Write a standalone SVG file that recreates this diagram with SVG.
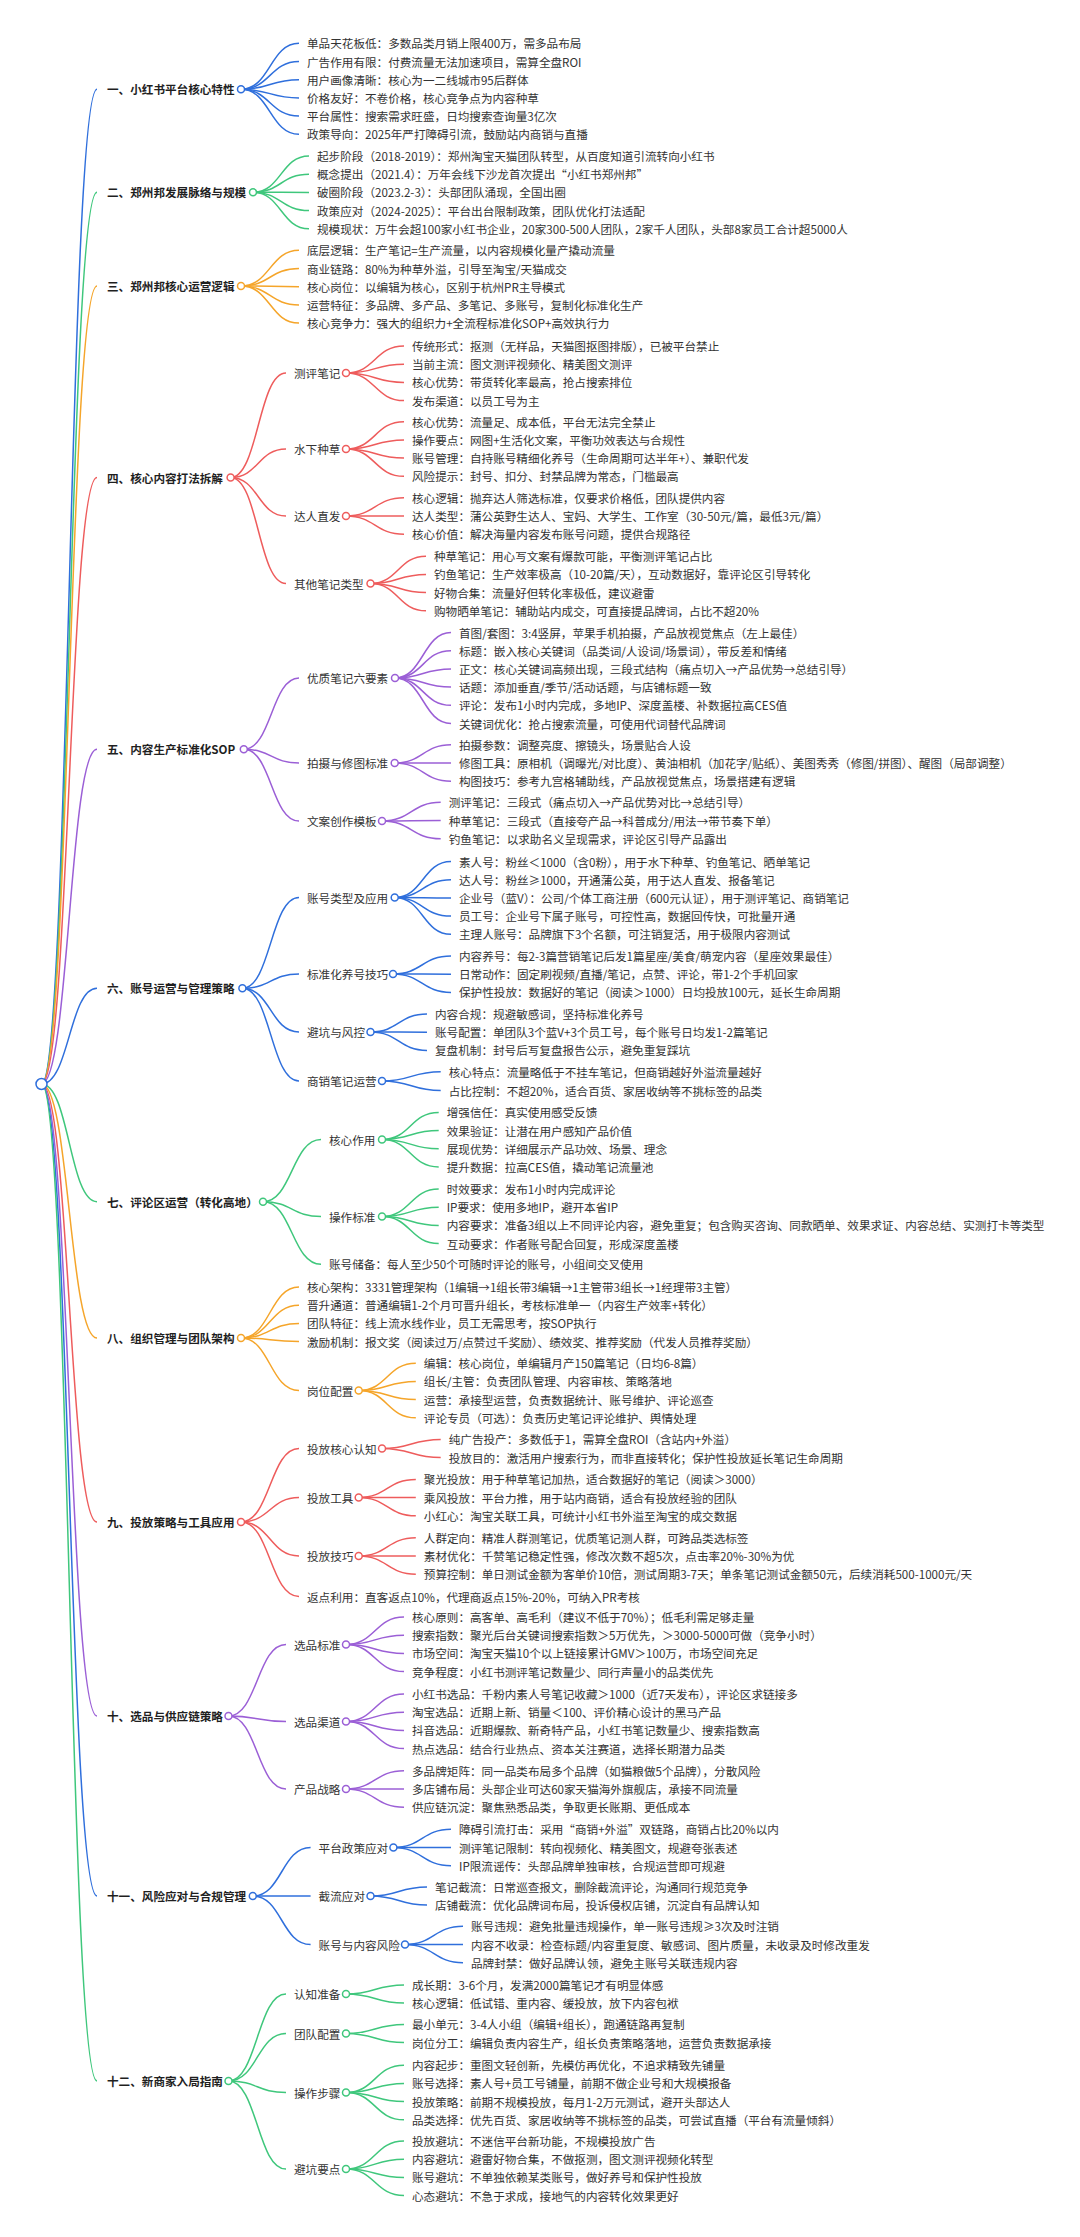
<svg xmlns="http://www.w3.org/2000/svg" width="1080" height="2237" viewBox="0 0 1080 2237">
<style>
text{font-family:"Noto Sans CJK SC","Noto Sans",sans-serif;font-size:11.6px;fill:#333;dominant-baseline:central}
.s{font-weight:bold;fill:#1f1f1f}
path{fill:none;stroke-width:1.5}
circle{fill:#fff;stroke-width:1.5}
.lb{stroke:#2f6fdc}.lg{stroke:#3fc77c}.lo{stroke:#f5a52a}.lr{stroke:#ee5c5c}.lp{stroke:#9b5fd6}
</style>
<rect width="1080" height="2237" fill="#fff"/>
<g id="connectors">
<path class="lb" d="M41.5 1084C69.25 1084 69.25 89.3 97 89.3"/>
<path class="lg" d="M41.5 1084C69.25 1084 69.25 192.3 97 192.3"/>
<path class="lo" d="M41.5 1084C69.25 1084 69.25 286 97 286"/>
<path class="lr" d="M41.5 1084C69.25 1084 69.25 477.5 97 477.5"/>
<path class="lp" d="M41.5 1084C69.25 1084 69.25 749.3 97 749.3"/>
<path class="lb" d="M41.5 1084C69.25 1084 69.25 988.3 97 988.3"/>
<path class="lg" d="M41.5 1084C69.25 1084 69.25 1201.7 97 1201.7"/>
<path class="lo" d="M41.5 1084C69.25 1084 69.25 1338 97 1338"/>
<path class="lr" d="M41.5 1084C69.25 1084 69.25 1522 97 1522"/>
<path class="lp" d="M41.5 1084C69.25 1084 69.25 1716 97 1716"/>
<path class="lb" d="M41.5 1084C69.25 1084 69.25 1896 97 1896"/>
<path class="lg" d="M41.5 1084C69.25 1084 69.25 2081 97 2081"/>
<path class="lb" d="M241 89.3C270 89.3 270 43.3 299 43.3"/>
<path class="lb" d="M241 89.3C270 89.3 270 61.5 299 61.5"/>
<path class="lb" d="M241 89.3C270 89.3 270 79.7 299 79.7"/>
<path class="lb" d="M241 89.3C270 89.3 270 97.9 299 97.9"/>
<path class="lb" d="M241 89.3C270 89.3 270 116.1 299 116.1"/>
<path class="lb" d="M241 89.3C270 89.3 270 134.3 299 134.3"/>
<path class="lg" d="M253 192.3C281 192.3 281 156 309 156"/>
<path class="lg" d="M253 192.3C281 192.3 281 174.2 309 174.2"/>
<path class="lg" d="M253 192.3C281 192.3 281 192.4 309 192.4"/>
<path class="lg" d="M253 192.3C281 192.3 281 210.6 309 210.6"/>
<path class="lg" d="M253 192.3C281 192.3 281 228.8 309 228.8"/>
<path class="lo" d="M241 286C270 286 270 250.3 299 250.3"/>
<path class="lo" d="M241 286C270 286 270 268.5 299 268.5"/>
<path class="lo" d="M241 286C270 286 270 286.7 299 286.7"/>
<path class="lo" d="M241 286C270 286 270 304.9 299 304.9"/>
<path class="lo" d="M241 286C270 286 270 323.1 299 323.1"/>
<path class="lr" d="M230.6 477.5C258.3 477.5 258.3 373 286 373"/>
<path class="lr" d="M230.6 477.5C258.3 477.5 258.3 449 286 449"/>
<path class="lr" d="M230.6 477.5C258.3 477.5 258.3 516 286 516"/>
<path class="lr" d="M230.6 477.5C258.3 477.5 258.3 583.5 286 583.5"/>
<path class="lr" d="M346 373C375 373 375 346 404 346"/>
<path class="lr" d="M346 373C375 373 375 364.2 404 364.2"/>
<path class="lr" d="M346 373C375 373 375 382.4 404 382.4"/>
<path class="lr" d="M346 373C375 373 375 400.6 404 400.6"/>
<path class="lr" d="M346 449C375 449 375 421.7 404 421.7"/>
<path class="lr" d="M346 449C375 449 375 439.9 404 439.9"/>
<path class="lr" d="M346 449C375 449 375 458.1 404 458.1"/>
<path class="lr" d="M346 449C375 449 375 476.3 404 476.3"/>
<path class="lr" d="M346 516C375 516 375 497.8 404 497.8"/>
<path class="lr" d="M346 516C375 516 375 516 404 516"/>
<path class="lr" d="M346 516C375 516 375 534.2 404 534.2"/>
<path class="lr" d="M370.5 583.5C398.3 583.5 398.3 556.2 426 556.2"/>
<path class="lr" d="M370.5 583.5C398.3 583.5 398.3 574.4 426 574.4"/>
<path class="lr" d="M370.5 583.5C398.3 583.5 398.3 592.6 426 592.6"/>
<path class="lr" d="M370.5 583.5C398.3 583.5 398.3 610.8 426 610.8"/>
<path class="lp" d="M243.8 749.3C271.4 749.3 271.4 678 299 678"/>
<path class="lp" d="M243.8 749.3C271.4 749.3 271.4 763 299 763"/>
<path class="lp" d="M243.8 749.3C271.4 749.3 271.4 821 299 821"/>
<path class="lp" d="M395 678C423 678 423 632.5 451 632.5"/>
<path class="lp" d="M395 678C423 678 423 650.7 451 650.7"/>
<path class="lp" d="M395 678C423 678 423 668.9 451 668.9"/>
<path class="lp" d="M395 678C423 678 423 687.1 451 687.1"/>
<path class="lp" d="M395 678C423 678 423 705.3 451 705.3"/>
<path class="lp" d="M395 678C423 678 423 723.5 451 723.5"/>
<path class="lp" d="M394.7 763C422.9 763 422.9 744.8 451 744.8"/>
<path class="lp" d="M394.7 763C422.9 763 422.9 763 451 763"/>
<path class="lp" d="M394.7 763C422.9 763 422.9 781.2 451 781.2"/>
<path class="lp" d="M382 821C411.4 821 411.4 802.3 440.7 802.3"/>
<path class="lp" d="M382 821C411.4 821 411.4 820.5 440.7 820.5"/>
<path class="lp" d="M382 821C411.4 821 411.4 838.7 440.7 838.7"/>
<path class="lb" d="M242.4 988.3C270.7 988.3 270.7 897.5 299 897.5"/>
<path class="lb" d="M242.4 988.3C270.7 988.3 270.7 974 299 974"/>
<path class="lb" d="M242.4 988.3C270.7 988.3 270.7 1032 299 1032"/>
<path class="lb" d="M242.4 988.3C270.7 988.3 270.7 1081 299 1081"/>
<path class="lb" d="M394.7 897.5C422.9 897.5 422.9 861.5 451 861.5"/>
<path class="lb" d="M394.7 897.5C422.9 897.5 422.9 879.7 451 879.7"/>
<path class="lb" d="M394.7 897.5C422.9 897.5 422.9 897.9 451 897.9"/>
<path class="lb" d="M394.7 897.5C422.9 897.5 422.9 916.1 451 916.1"/>
<path class="lb" d="M394.7 897.5C422.9 897.5 422.9 934.3 451 934.3"/>
<path class="lb" d="M393 974C422 974 422 956 451 956"/>
<path class="lb" d="M393 974C422 974 422 974.2 451 974.2"/>
<path class="lb" d="M393 974C422 974 422 992.4 451 992.4"/>
<path class="lb" d="M370.5 1032C398.8 1032 398.8 1014 427 1014"/>
<path class="lb" d="M370.5 1032C398.8 1032 398.8 1032.2 427 1032.2"/>
<path class="lb" d="M370.5 1032C398.8 1032 398.8 1050.4 427 1050.4"/>
<path class="lb" d="M382 1081C411.4 1081 411.4 1071.7 440.7 1071.7"/>
<path class="lb" d="M382 1081C411.4 1081 411.4 1090.5 440.7 1090.5"/>
<path class="lg" d="M263 1201.7C292 1201.7 292 1139.5 321 1139.5"/>
<path class="lg" d="M263 1201.7C292 1201.7 292 1216.5 321 1216.5"/>
<path class="lg" d="M263 1201.7C292 1201.7 292 1264.3 321 1264.3"/>
<path class="lg" d="M382 1139.5C410.4 1139.5 410.4 1112.4 438.7 1112.4"/>
<path class="lg" d="M382 1139.5C410.4 1139.5 410.4 1130.6 438.7 1130.6"/>
<path class="lg" d="M382 1139.5C410.4 1139.5 410.4 1148.8 438.7 1148.8"/>
<path class="lg" d="M382 1139.5C410.4 1139.5 410.4 1167 438.7 1167"/>
<path class="lg" d="M382 1216.5C410.4 1216.5 410.4 1189 438.7 1189"/>
<path class="lg" d="M382 1216.5C410.4 1216.5 410.4 1207.2 438.7 1207.2"/>
<path class="lg" d="M382 1216.5C410.4 1216.5 410.4 1225.4 438.7 1225.4"/>
<path class="lg" d="M382 1216.5C410.4 1216.5 410.4 1243.6 438.7 1243.6"/>
<path class="lo" d="M241 1338C270 1338 270 1287 299 1287"/>
<path class="lo" d="M241 1338C270 1338 270 1305.2 299 1305.2"/>
<path class="lo" d="M241 1338C270 1338 270 1323.4 299 1323.4"/>
<path class="lo" d="M241 1338C270 1338 270 1341.6 299 1341.6"/>
<path class="lo" d="M241 1338C270 1338 270 1390.5 299 1390.5"/>
<path class="lo" d="M358.7 1390.5C387.3 1390.5 387.3 1363.2 415.8 1363.2"/>
<path class="lo" d="M358.7 1390.5C387.3 1390.5 387.3 1381.4 415.8 1381.4"/>
<path class="lo" d="M358.7 1390.5C387.3 1390.5 387.3 1399.6 415.8 1399.6"/>
<path class="lo" d="M358.7 1390.5C387.3 1390.5 387.3 1417.8 415.8 1417.8"/>
<path class="lr" d="M241 1522C270 1522 270 1448.5 299 1448.5"/>
<path class="lr" d="M241 1522C270 1522 270 1497.5 299 1497.5"/>
<path class="lr" d="M241 1522C270 1522 270 1556 299 1556"/>
<path class="lr" d="M241 1522C270 1522 270 1596.5 299 1596.5"/>
<path class="lr" d="M382 1448.5C411.4 1448.5 411.4 1439.4 440.7 1439.4"/>
<path class="lr" d="M382 1448.5C411.4 1448.5 411.4 1457.6 440.7 1457.6"/>
<path class="lr" d="M358.7 1497.5C387.3 1497.5 387.3 1479.4 415.8 1479.4"/>
<path class="lr" d="M358.7 1497.5C387.3 1497.5 387.3 1497.6 415.8 1497.6"/>
<path class="lr" d="M358.7 1497.5C387.3 1497.5 387.3 1515.8 415.8 1515.8"/>
<path class="lr" d="M358.7 1556C387.3 1556 387.3 1537.8 415.8 1537.8"/>
<path class="lr" d="M358.7 1556C387.3 1556 387.3 1556 415.8 1556"/>
<path class="lr" d="M358.7 1556C387.3 1556 387.3 1574.2 415.8 1574.2"/>
<path class="lp" d="M228.5 1716C257.3 1716 257.3 1644.5 286 1644.5"/>
<path class="lp" d="M228.5 1716C257.3 1716 257.3 1721.5 286 1721.5"/>
<path class="lp" d="M228.5 1716C257.3 1716 257.3 1789 286 1789"/>
<path class="lp" d="M346 1644.5C375 1644.5 375 1617 404 1617"/>
<path class="lp" d="M346 1644.5C375 1644.5 375 1635.2 404 1635.2"/>
<path class="lp" d="M346 1644.5C375 1644.5 375 1653.4 404 1653.4"/>
<path class="lp" d="M346 1644.5C375 1644.5 375 1671.6 404 1671.6"/>
<path class="lp" d="M346 1721.5C375 1721.5 375 1694 404 1694"/>
<path class="lp" d="M346 1721.5C375 1721.5 375 1712.2 404 1712.2"/>
<path class="lp" d="M346 1721.5C375 1721.5 375 1730.4 404 1730.4"/>
<path class="lp" d="M346 1721.5C375 1721.5 375 1748.6 404 1748.6"/>
<path class="lp" d="M346 1789C375 1789 375 1770.8 404 1770.8"/>
<path class="lp" d="M346 1789C375 1789 375 1789 404 1789"/>
<path class="lp" d="M346 1789C375 1789 375 1807.2 404 1807.2"/>
<path class="lb" d="M252.8 1896C281.7 1896 281.7 1847.5 310.6 1847.5"/>
<path class="lb" d="M252.8 1896C281.7 1896 281.7 1896 310.6 1896"/>
<path class="lb" d="M252.8 1896C281.7 1896 281.7 1944.5 310.6 1944.5"/>
<path class="lb" d="M393.4 1847.5C422.2 1847.5 422.2 1829.3 451 1829.3"/>
<path class="lb" d="M393.4 1847.5C422.2 1847.5 422.2 1847.5 451 1847.5"/>
<path class="lb" d="M393.4 1847.5C422.2 1847.5 422.2 1865.7 451 1865.7"/>
<path class="lb" d="M370.5 1896C398.8 1896 398.8 1886.9 427 1886.9"/>
<path class="lb" d="M370.5 1896C398.8 1896 398.8 1905.1 427 1905.1"/>
<path class="lb" d="M405 1944.5C434 1944.5 434 1926.3 463 1926.3"/>
<path class="lb" d="M405 1944.5C434 1944.5 434 1944.5 463 1944.5"/>
<path class="lb" d="M405 1944.5C434 1944.5 434 1962.7 463 1962.7"/>
<path class="lg" d="M228.5 2081C257.3 2081 257.3 1994 286 1994"/>
<path class="lg" d="M228.5 2081C257.3 2081 257.3 2033.5 286 2033.5"/>
<path class="lg" d="M228.5 2081C257.3 2081 257.3 2092.5 286 2092.5"/>
<path class="lg" d="M228.5 2081C257.3 2081 257.3 2169 286 2169"/>
<path class="lg" d="M346 1994C375 1994 375 1984.9 404 1984.9"/>
<path class="lg" d="M346 1994C375 1994 375 2003.1 404 2003.1"/>
<path class="lg" d="M346 2033.5C375 2033.5 375 2024.4 404 2024.4"/>
<path class="lg" d="M346 2033.5C375 2033.5 375 2042.6 404 2042.6"/>
<path class="lg" d="M346 2092.5C375 2092.5 375 2065.2 404 2065.2"/>
<path class="lg" d="M346 2092.5C375 2092.5 375 2083.4 404 2083.4"/>
<path class="lg" d="M346 2092.5C375 2092.5 375 2101.6 404 2101.6"/>
<path class="lg" d="M346 2092.5C375 2092.5 375 2119.8 404 2119.8"/>
<path class="lg" d="M346 2169C375 2169 375 2141 404 2141"/>
<path class="lg" d="M346 2169C375 2169 375 2159.2 404 2159.2"/>
<path class="lg" d="M346 2169C375 2169 375 2177.4 404 2177.4"/>
<path class="lg" d="M346 2169C375 2169 375 2195.6 404 2195.6"/>
</g>
<g id="root"><circle class="lb" cx="41.5" cy="1084" r="5.5"/></g>

<g id="s1"><text class="s" x="107" y="89.3">一、小红书平台核心特性</text><circle class="lb" cx="241" cy="89.3" r="3.5"/></g>
<g id="s1-1"><text x="307" y="43.3">单品天花板低：多数品类月销上限400万，需多品布局</text></g>
<g id="s1-2"><text x="307" y="61.5">广告作用有限：付费流量无法加速项目，需算全盘ROI</text></g>
<g id="s1-3"><text x="307" y="79.7">用户画像清晰：核心为一二线城市95后群体</text></g>
<g id="s1-4"><text x="307" y="97.9">价格友好：不卷价格，核心竞争点为内容种草</text></g>
<g id="s1-5"><text x="307" y="116.1">平台属性：搜索需求旺盛，日均搜索查询量3亿次</text></g>
<g id="s1-6"><text x="307" y="134.3">政策导向：2025年严打障碍引流，鼓励站内商销与直播</text></g>

<g id="s2"><text class="s" x="107" y="192.3">二、郑州邦发展脉络与规模</text><circle class="lg" cx="253" cy="192.3" r="3.5"/></g>
<g id="s2-1"><text x="317" y="156">起步阶段（2018-2019）：郑州淘宝天猫团队转型，从百度知道引流转向小红书</text></g>
<g id="s2-2"><text x="317" y="174.2">概念提出（2021.4）：万年会线下沙龙首次提出“小红书郑州邦”</text></g>
<g id="s2-3"><text x="317" y="192.4">破圈阶段（2023.2-3）：头部团队涌现，全国出圈</text></g>
<g id="s2-4"><text x="317" y="210.6">政策应对（2024-2025）：平台出台限制政策，团队优化打法适配</text></g>
<g id="s2-5"><text x="317" y="228.8">规模现状：万牛会超100家小红书企业，20家300-500人团队，2家千人团队，头部8家员工合计超5000人</text></g>

<g id="s3"><text class="s" x="107" y="286">三、郑州邦核心运营逻辑</text><circle class="lo" cx="241" cy="286" r="3.5"/></g>
<g id="s3-1"><text x="307" y="250.3">底层逻辑：生产笔记=生产流量，以内容规模化量产撬动流量</text></g>
<g id="s3-2"><text x="307" y="268.5">商业链路：80%为种草外溢，引导至淘宝/天猫成交</text></g>
<g id="s3-3"><text x="307" y="286.7">核心岗位：以编辑为核心，区别于杭州PR主导模式</text></g>
<g id="s3-4"><text x="307" y="304.9">运营特征：多品牌、多产品、多笔记、多账号，复制化标准化生产</text></g>
<g id="s3-5"><text x="307" y="323.1">核心竞争力：强大的组织力+全流程标准化SOP+高效执行力</text></g>

<g id="s4"><text class="s" x="107" y="477.5">四、核心内容打法拆解</text><circle class="lr" cx="230.6" cy="477.5" r="3.5"/></g>
<g id="s4-a"><text x="294" y="373">测评笔记</text><circle class="lr" cx="346" cy="373" r="3.5"/></g>
<g id="s4-a1"><text x="412" y="346">传统形式：抠测（无样品，天猫图抠图排版），已被平台禁止</text></g>
<g id="s4-a2"><text x="412" y="364.2">当前主流：图文测评视频化、精美图文测评</text></g>
<g id="s4-a3"><text x="412" y="382.4">核心优势：带货转化率最高，抢占搜索排位</text></g>
<g id="s4-a4"><text x="412" y="400.6">发布渠道：以员工号为主</text></g>
<g id="s4-b"><text x="294" y="449">水下种草</text><circle class="lr" cx="346" cy="449" r="3.5"/></g>
<g id="s4-b1"><text x="412" y="421.7">核心优势：流量足、成本低，平台无法完全禁止</text></g>
<g id="s4-b2"><text x="412" y="439.9">操作要点：网图+生活化文案，平衡功效表达与合规性</text></g>
<g id="s4-b3"><text x="412" y="458.1">账号管理：自持账号精细化养号（生命周期可达半年+）、兼职代发</text></g>
<g id="s4-b4"><text x="412" y="476.3">风险提示：封号、扣分、封禁品牌为常态，门槛最高</text></g>
<g id="s4-c"><text x="294" y="516">达人直发</text><circle class="lr" cx="346" cy="516" r="3.5"/></g>
<g id="s4-c1"><text x="412" y="497.8">核心逻辑：抛弃达人筛选标准，仅要求价格低，团队提供内容</text></g>
<g id="s4-c2"><text x="412" y="516">达人类型：蒲公英野生达人、宝妈、大学生、工作室（30-50元/篇，最低3元/篇）</text></g>
<g id="s4-c3"><text x="412" y="534.2">核心价值：解决海量内容发布账号问题，提供合规路径</text></g>
<g id="s4-d"><text x="294" y="583.5">其他笔记类型</text><circle class="lr" cx="370.5" cy="583.5" r="3.5"/></g>
<g id="s4-d1"><text x="434" y="556.2">种草笔记：用心写文案有爆款可能，平衡测评笔记占比</text></g>
<g id="s4-d2"><text x="434" y="574.4">钓鱼笔记：生产效率极高（10-20篇/天），互动数据好，靠评论区引导转化</text></g>
<g id="s4-d3"><text x="434" y="592.6">好物合集：流量好但转化率极低，建议避雷</text></g>
<g id="s4-d4"><text x="434" y="610.8">购物晒单笔记：辅助站内成交，可直接提品牌词，占比不超20%</text></g>

<g id="s5"><text class="s" x="107" y="749.3">五、内容生产标准化SOP</text><circle class="lp" cx="243.8" cy="749.3" r="3.5"/></g>
<g id="s5-a"><text x="307" y="678">优质笔记六要素</text><circle class="lp" cx="395" cy="678" r="3.5"/></g>
<g id="s5-a1"><text x="459" y="632.5">首图/套图：3:4竖屏，苹果手机拍摄，产品放视觉焦点（左上最佳）</text></g>
<g id="s5-a2"><text x="459" y="650.7">标题：嵌入核心关键词（品类词/人设词/场景词），带反差和情绪</text></g>
<g id="s5-a3"><text x="459" y="668.9">正文：核心关键词高频出现，三段式结构（痛点切入→产品优势→总结引导）</text></g>
<g id="s5-a4"><text x="459" y="687.1">话题：添加垂直/季节/活动话题，与店铺标题一致</text></g>
<g id="s5-a5"><text x="459" y="705.3">评论：发布1小时内完成，多地IP、深度盖楼、补数据拉高CES值</text></g>
<g id="s5-a6"><text x="459" y="723.5">关键词优化：抢占搜索流量，可使用代词替代品牌词</text></g>
<g id="s5-b"><text x="307" y="763">拍摄与修图标准</text><circle class="lp" cx="394.7" cy="763" r="3.5"/></g>
<g id="s5-b1"><text x="459" y="744.8">拍摄参数：调整亮度、擦镜头，场景贴合人设</text></g>
<g id="s5-b2"><text x="459" y="763">修图工具：原相机（调曝光/对比度）、黄油相机（加花字/贴纸）、美图秀秀（修图/拼图）、醒图（局部调整）</text></g>
<g id="s5-b3"><text x="459" y="781.2">构图技巧：参考九宫格辅助线，产品放视觉焦点，场景搭建有逻辑</text></g>
<g id="s5-c"><text x="307" y="821">文案创作模板</text><circle class="lp" cx="382" cy="821" r="3.5"/></g>
<g id="s5-c1"><text x="448.7" y="802.3">测评笔记：三段式（痛点切入→产品优势对比→总结引导）</text></g>
<g id="s5-c2"><text x="448.7" y="820.5">种草笔记：三段式（直接夸产品→科普成分/用法→带节奏下单）</text></g>
<g id="s5-c3"><text x="448.7" y="838.7">钓鱼笔记：以求助名义呈现需求，评论区引导产品露出</text></g>

<g id="s6"><text class="s" x="107" y="988.3">六、账号运营与管理策略</text><circle class="lb" cx="242.4" cy="988.3" r="3.5"/></g>
<g id="s6-a"><text x="307" y="897.5">账号类型及应用</text><circle class="lb" cx="394.7" cy="897.5" r="3.5"/></g>
<g id="s6-a1"><text x="459" y="861.5">素人号：粉丝＜1000（含0粉），用于水下种草、钓鱼笔记、晒单笔记</text></g>
<g id="s6-a2"><text x="459" y="879.7">达人号：粉丝≥1000，开通蒲公英，用于达人直发、报备笔记</text></g>
<g id="s6-a3"><text x="459" y="897.9">企业号（蓝V）：公司/个体工商注册（600元认证），用于测评笔记、商销笔记</text></g>
<g id="s6-a4"><text x="459" y="916.1">员工号：企业号下属子账号，可控性高，数据回传快，可批量开通</text></g>
<g id="s6-a5"><text x="459" y="934.3">主理人账号：品牌旗下3个名额，可注销复活，用于极限内容测试</text></g>
<g id="s6-b"><text x="307" y="974">标准化养号技巧</text><circle class="lb" cx="393" cy="974" r="3.5"/></g>
<g id="s6-b1"><text x="459" y="956">内容养号：每2-3篇营销笔记后发1篇星座/美食/萌宠内容（星座效果最佳）</text></g>
<g id="s6-b2"><text x="459" y="974.2">日常动作：固定刷视频/直播/笔记，点赞、评论，带1-2个手机回家</text></g>
<g id="s6-b3"><text x="459" y="992.4">保护性投放：数据好的笔记（阅读＞1000）日均投放100元，延长生命周期</text></g>
<g id="s6-c"><text x="307" y="1032">避坑与风控</text><circle class="lb" cx="370.5" cy="1032" r="3.5"/></g>
<g id="s6-c1"><text x="435" y="1014">内容合规：规避敏感词，坚持标准化养号</text></g>
<g id="s6-c2"><text x="435" y="1032.2">账号配置：单团队3个蓝V+3个员工号，每个账号日均发1-2篇笔记</text></g>
<g id="s6-c3"><text x="435" y="1050.4">复盘机制：封号后写复盘报告公示，避免重复踩坑</text></g>
<g id="s6-d"><text x="307" y="1081">商销笔记运营</text><circle class="lb" cx="382" cy="1081" r="3.5"/></g>
<g id="s6-d1"><text x="448.7" y="1071.7">核心特点：流量略低于不挂车笔记，但商销越好外溢流量越好</text></g>
<g id="s6-d2"><text x="448.7" y="1090.5">占比控制：不超20%，适合百货、家居收纳等不挑标签的品类</text></g>

<g id="s7"><text class="s" x="107" y="1201.7">七、评论区运营（转化高地）</text><circle class="lg" cx="263" cy="1201.7" r="3.5"/></g>
<g id="s7-a"><text x="329" y="1139.5">核心作用</text><circle class="lg" cx="382" cy="1139.5" r="3.5"/></g>
<g id="s7-a1"><text x="446.7" y="1112.4">增强信任：真实使用感受反馈</text></g>
<g id="s7-a2"><text x="446.7" y="1130.6">效果验证：让潜在用户感知产品价值</text></g>
<g id="s7-a3"><text x="446.7" y="1148.8">展现优势：详细展示产品功效、场景、理念</text></g>
<g id="s7-a4"><text x="446.7" y="1167">提升数据：拉高CES值，撬动笔记流量池</text></g>
<g id="s7-b"><text x="329" y="1216.5">操作标准</text><circle class="lg" cx="382" cy="1216.5" r="3.5"/></g>
<g id="s7-b1"><text x="446.7" y="1189">时效要求：发布1小时内完成评论</text></g>
<g id="s7-b2"><text x="446.7" y="1207.2">IP要求：使用多地IP，避开本省IP</text></g>
<g id="s7-b3"><text x="446.7" y="1225.4">内容要求：准备3组以上不同评论内容，避免重复；包含购买咨询、同款晒单、效果求证、内容总结、实测打卡等类型</text></g>
<g id="s7-b4"><text x="446.7" y="1243.6">互动要求：作者账号配合回复，形成深度盖楼</text></g>
<g id="s7-c"><text x="329" y="1264.3">账号储备：每人至少50个可随时评论的账号，小组间交叉使用</text></g>

<g id="s8"><text class="s" x="107" y="1338">八、组织管理与团队架构</text><circle class="lo" cx="241" cy="1338" r="3.5"/></g>
<g id="s8-1"><text x="307" y="1287">核心架构：3331管理架构（1编辑→1组长带3编辑→1主管带3组长→1经理带3主管）</text></g>
<g id="s8-2"><text x="307" y="1305.2">晋升通道：普通编辑1-2个月可晋升组长，考核标准单一（内容生产效率+转化）</text></g>
<g id="s8-3"><text x="307" y="1323.4">团队特征：线上流水线作业，员工无需思考，按SOP执行</text></g>
<g id="s8-4"><text x="307" y="1341.6">激励机制：报文奖（阅读过万/点赞过千奖励）、绩效奖、推荐奖励（代发人员推荐奖励）</text></g>
<g id="s8-e"><text x="307" y="1390.5">岗位配置</text><circle class="lo" cx="358.7" cy="1390.5" r="3.5"/></g>
<g id="s8-e1"><text x="423.8" y="1363.2">编辑：核心岗位，单编辑月产150篇笔记（日均6-8篇）</text></g>
<g id="s8-e2"><text x="423.8" y="1381.4">组长/主管：负责团队管理、内容审核、策略落地</text></g>
<g id="s8-e3"><text x="423.8" y="1399.6">运营：承接型运营，负责数据统计、账号维护、评论巡查</text></g>
<g id="s8-e4"><text x="423.8" y="1417.8">评论专员（可选）：负责历史笔记评论维护、舆情处理</text></g>

<g id="s9"><text class="s" x="107" y="1522">九、投放策略与工具应用</text><circle class="lr" cx="241" cy="1522" r="3.5"/></g>
<g id="s9-a"><text x="307" y="1448.5">投放核心认知</text><circle class="lr" cx="382" cy="1448.5" r="3.5"/></g>
<g id="s9-a1"><text x="448.7" y="1439.4">纯广告投产：多数低于1，需算全盘ROI（含站内+外溢）</text></g>
<g id="s9-a2"><text x="448.7" y="1457.6">投放目的：激活用户搜索行为，而非直接转化；保护性投放延长笔记生命周期</text></g>
<g id="s9-b"><text x="307" y="1497.5">投放工具</text><circle class="lr" cx="358.7" cy="1497.5" r="3.5"/></g>
<g id="s9-b1"><text x="423.8" y="1479.4">聚光投放：用于种草笔记加热，适合数据好的笔记（阅读＞3000）</text></g>
<g id="s9-b2"><text x="423.8" y="1497.6">乘风投放：平台力推，用于站内商销，适合有投放经验的团队</text></g>
<g id="s9-b3"><text x="423.8" y="1515.8">小红心：淘宝关联工具，可统计小红书外溢至淘宝的成交数据</text></g>
<g id="s9-c"><text x="307" y="1556">投放技巧</text><circle class="lr" cx="358.7" cy="1556" r="3.5"/></g>
<g id="s9-c1"><text x="423.8" y="1537.8">人群定向：精准人群测笔记，优质笔记测人群，可跨品类选标签</text></g>
<g id="s9-c2"><text x="423.8" y="1556">素材优化：千赞笔记稳定性强，修改次数不超5次，点击率20%-30%为优</text></g>
<g id="s9-c3"><text x="423.8" y="1574.2">预算控制：单日测试金额为客单价10倍，测试周期3-7天；单条笔记测试金额50元，后续消耗500-1000元/天</text></g>
<g id="s9-d"><text x="307" y="1596.5">返点利用：直客返点10%，代理商返点15%-20%，可纳入PR考核</text></g>

<g id="s10"><text class="s" x="107" y="1716">十、选品与供应链策略</text><circle class="lp" cx="228.5" cy="1716" r="3.5"/></g>
<g id="s10-a"><text x="294" y="1644.5">选品标准</text><circle class="lp" cx="346" cy="1644.5" r="3.5"/></g>
<g id="s10-a1"><text x="412" y="1617">核心原则：高客单、高毛利（建议不低于70%）；低毛利需足够走量</text></g>
<g id="s10-a2"><text x="412" y="1635.2">搜索指数：聚光后台关键词搜索指数＞5万优先，＞3000-5000可做（竞争小时）</text></g>
<g id="s10-a3"><text x="412" y="1653.4">市场空间：淘宝天猫10个以上链接累计GMV＞100万，市场空间充足</text></g>
<g id="s10-a4"><text x="412" y="1671.6">竞争程度：小红书测评笔记数量少、同行声量小的品类优先</text></g>
<g id="s10-b"><text x="294" y="1721.5">选品渠道</text><circle class="lp" cx="346" cy="1721.5" r="3.5"/></g>
<g id="s10-b1"><text x="412" y="1694">小红书选品：千粉内素人号笔记收藏＞1000（近7天发布），评论区求链接多</text></g>
<g id="s10-b2"><text x="412" y="1712.2">淘宝选品：近期上新、销量＜100、评价精心设计的黑马产品</text></g>
<g id="s10-b3"><text x="412" y="1730.4">抖音选品：近期爆款、新奇特产品，小红书笔记数量少、搜索指数高</text></g>
<g id="s10-b4"><text x="412" y="1748.6">热点选品：结合行业热点、资本关注赛道，选择长期潜力品类</text></g>
<g id="s10-c"><text x="294" y="1789">产品战略</text><circle class="lp" cx="346" cy="1789" r="3.5"/></g>
<g id="s10-c1"><text x="412" y="1770.8">多品牌矩阵：同一品类布局多个品牌（如猫粮做5个品牌），分散风险</text></g>
<g id="s10-c2"><text x="412" y="1789">多店铺布局：头部企业可达60家天猫海外旗舰店，承接不同流量</text></g>
<g id="s10-c3"><text x="412" y="1807.2">供应链沉淀：聚焦熟悉品类，争取更长账期、更低成本</text></g>

<g id="s11"><text class="s" x="107" y="1896">十一、风险应对与合规管理</text><circle class="lb" cx="252.8" cy="1896" r="3.5"/></g>
<g id="s11-a"><text x="318.6" y="1847.5">平台政策应对</text><circle class="lb" cx="393.4" cy="1847.5" r="3.5"/></g>
<g id="s11-a1"><text x="459" y="1829.3">障碍引流打击：采用“商销+外溢”双链路，商销占比20%以内</text></g>
<g id="s11-a2"><text x="459" y="1847.5">测评笔记限制：转向视频化、精美图文，规避夸张表述</text></g>
<g id="s11-a3"><text x="459" y="1865.7">IP限流谣传：头部品牌单独审核，合规运营即可规避</text></g>
<g id="s11-b"><text x="318.6" y="1896">截流应对</text><circle class="lb" cx="370.5" cy="1896" r="3.5"/></g>
<g id="s11-b1"><text x="435" y="1886.9">笔记截流：日常巡查报文，删除截流评论，沟通同行规范竞争</text></g>
<g id="s11-b2"><text x="435" y="1905.1">店铺截流：优化品牌词布局，投诉侵权店铺，沉淀自有品牌认知</text></g>
<g id="s11-c"><text x="318.6" y="1944.5">账号与内容风险</text><circle class="lb" cx="405" cy="1944.5" r="3.5"/></g>
<g id="s11-c1"><text x="471" y="1926.3">账号违规：避免批量违规操作，单一账号违规≥3次及时注销</text></g>
<g id="s11-c2"><text x="471" y="1944.5">内容不收录：检查标题/内容重复度、敏感词、图片质量，未收录及时修改重发</text></g>
<g id="s11-c3"><text x="471" y="1962.7">品牌封禁：做好品牌认领，避免主账号关联违规内容</text></g>

<g id="s12"><text class="s" x="107" y="2081">十二、新商家入局指南</text><circle class="lg" cx="228.5" cy="2081" r="3.5"/></g>
<g id="s12-a"><text x="294" y="1994">认知准备</text><circle class="lg" cx="346" cy="1994" r="3.5"/></g>
<g id="s12-a1"><text x="412" y="1984.9">成长期：3-6个月，发满2000篇笔记才有明显体感</text></g>
<g id="s12-a2"><text x="412" y="2003.1">核心逻辑：低试错、重内容、缓投放，放下内容包袱</text></g>
<g id="s12-b"><text x="294" y="2033.5">团队配置</text><circle class="lg" cx="346" cy="2033.5" r="3.5"/></g>
<g id="s12-b1"><text x="412" y="2024.4">最小单元：3-4人小组（编辑+组长），跑通链路再复制</text></g>
<g id="s12-b2"><text x="412" y="2042.6">岗位分工：编辑负责内容生产，组长负责策略落地，运营负责数据承接</text></g>
<g id="s12-c"><text x="294" y="2092.5">操作步骤</text><circle class="lg" cx="346" cy="2092.5" r="3.5"/></g>
<g id="s12-c1"><text x="412" y="2065.2">内容起步：重图文轻创新，先模仿再优化，不追求精致先铺量</text></g>
<g id="s12-c2"><text x="412" y="2083.4">账号选择：素人号+员工号铺量，前期不做企业号和大规模报备</text></g>
<g id="s12-c3"><text x="412" y="2101.6">投放策略：前期不规模投放，每月1-2万元测试，避开头部达人</text></g>
<g id="s12-c4"><text x="412" y="2119.8">品类选择：优先百货、家居收纳等不挑标签的品类，可尝试直播（平台有流量倾斜）</text></g>
<g id="s12-d"><text x="294" y="2169">避坑要点</text><circle class="lg" cx="346" cy="2169" r="3.5"/></g>
<g id="s12-d1"><text x="412" y="2141">投放避坑：不迷信平台新功能，不规模投放广告</text></g>
<g id="s12-d2"><text x="412" y="2159.2">内容避坑：避雷好物合集，不做抠测，图文测评视频化转型</text></g>
<g id="s12-d3"><text x="412" y="2177.4">账号避坑：不单独依赖某类账号，做好养号和保护性投放</text></g>
<g id="s12-d4"><text x="412" y="2195.6">心态避坑：不急于求成，接地气的内容转化效果更好</text></g>
</svg>
